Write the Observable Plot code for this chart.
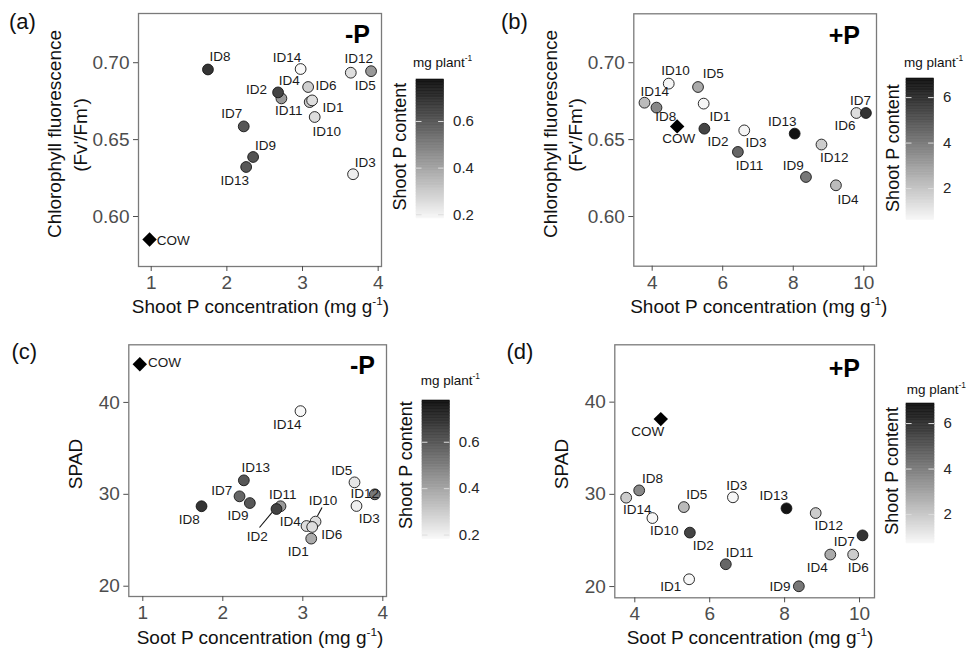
<!DOCTYPE html>
<html><head><meta charset="utf-8">
<script src="https://cdn.jsdelivr.net/npm/d3@7"></script>
<script src="https://cdn.jsdelivr.net/npm/@observablehq/plot@0.6"></script>
<style>
body{margin:0;background:#fff;}
#root{position:relative;width:970px;height:650px;overflow:hidden;font-family:"Liberation Sans",Arial,sans-serif;background:#fff;}
#root svg{position:absolute;}
</style></head><body><div id="root"></div>
<script>
// ---------- DATA ----------
// (a) -P : chlorophyll fluorescence vs shoot P concentration
const idsA = ["ID11","ID4","ID14","ID12","ID5","ID6","ID10","ID1","ID3","ID13","ID9","ID7","ID8","ID2"];
const xA   = [2.721,3.095,2.975,3.638,3.906,3.074,3.161,3.127,3.668,2.255,2.347,2.223,1.750,2.677];
const yA   = [0.6768,0.6744,0.6959,0.6935,0.6945,0.6842,0.6647,0.6755,0.6275,0.6322,0.6387,0.6586,0.6956,0.6807];
const pA   = [0.43,0.30,0.18,0.25,0.43,0.29,0.25,0.25,0.21,0.60,0.61,0.60,0.69,0.65];
// (b) +P : chlorophyll fluorescence vs shoot P concentration
const idsB = ["ID14","ID8","ID10","ID5","ID1","ID2","ID3","ID11","ID13","ID9","ID12","ID4","ID6","ID7"];
const xB   = [3.782,4.122,4.470,5.300,5.460,5.480,6.610,6.430,8.040,8.360,8.800,9.210,9.790,10.060];
const yB   = [0.6740,0.6708,0.6864,0.6842,0.6734,0.6571,0.6560,0.6420,0.6539,0.6257,0.6468,0.6203,0.6673,0.6673];
const pB   = [2.25,3.63,0.70,2.72,0.70,5.46,0.70,4.55,6.80,4.09,1.79,2.25,1.34,5.92];
// (c) -P : SPAD vs soot P concentration
const idsC = ["ID14","ID13","ID7","ID9","ID8","ID11","ID2","ID5","ID12","ID3","ID1","ID4","ID10","ID6"];
const xC   = [2.971,2.263,2.209,2.338,1.734,2.721,2.671,3.646,3.900,3.671,3.105,3.046,3.159,3.117];
const yC   = [39.05,31.52,29.78,29.05,28.70,28.70,28.40,31.30,30.00,28.73,25.18,26.55,27.03,26.45];
const pC   = [0.18,0.60,0.56,0.60,0.69,0.43,0.65,0.23,0.515,0.206,0.383,0.25,0.25,0.25];
// (d) +P : SPAD vs soot P concentration
const idsD = ["ID14","ID8","ID10","ID5","ID2","ID3","ID13","ID12","ID11","ID1","ID9","ID4","ID6","ID7"];
const xD   = [3.770,4.117,4.470,5.310,5.470,6.620,8.050,8.830,6.430,5.450,8.380,9.220,9.830,10.080];
const yD   = [29.64,30.43,27.43,28.62,25.85,29.68,28.48,27.97,22.42,20.79,20.03,23.47,23.47,25.55];
const pD   = [1.90,3.71,0.75,2.35,5.52,0.75,6.80,1.90,4.62,0.75,4.16,2.81,1.90,5.98];
// COW reference cultivar (panels a, b, c, d)
const cowX = [0.978, 4.708, 0.9625, 4.694];
const cowY = [0.585, 0.6586, 44.16, 38.16];
// tick values
const xTicksMinusP = [1,2,3,4];
const xTicksPlusP  = [4,6,8,10];
const yTicksFluor  = [0.60,0.65,0.70];
const yTicksSPAD   = [20,30,40];
const legendTicksMinusP = [0.2,0.4,0.6];
const legendTicksPlusP  = [2,4,6];

// ---------- LABEL PLACEMENT (pixel offsets, style only) ----------
const offA = {ID8:[12,-12.6],ID14:[-13.5,-11.6],ID12:[8,-14],ID5:[-5.7,14.3],ID4:[-20.5,-21.7],ID6:[18,-1],ID2:[-21.5,-3],ID11:[7.3,12.3],ID1:[20.8,7.7],ID10:[12,15],ID7:[-12,-12.7],ID9:[12.5,-11.7],ID13:[-11.5,13.3],ID3:[12.3,-11.7],COW:[23.7,1]};
const offB = {ID10:[6.7,-13.3],ID5:[15.3,-13],ID14:[10.2,-11.3],ID8:[9.2,9.4],ID1:[16.4,13.4],ID2:[13.5,13.4],ID3:[11.8,12.3],ID11:[11.5,13.3],ID13:[-12.3,-12.3],ID9:[-12.7,-11.7],ID12:[12.8,13],ID4:[12.1,14],ID6:[-11.5,12.6],ID7:[-5.4,-12.7],COW:[1.6,12.7]};
const offC = {ID14:[-13.2,13.6],ID13:[12,-12.3],ID7:[-17.8,-6],ID9:[-11.8,13],ID8:[-12.2,13],ID11:[2.3,-11.7],ID2:[-19.3,28],ID5:[-12.8,-12],ID12:[-10,-0.7],ID3:[12.8,12.6],ID10:[7.5,-21.3],ID4:[-16.3,-4],ID6:[19.5,7.6],ID1:[-12.9,13.4],COW:[24.7,-2]};
const offD = {ID8:[13.3,-12],ID14:[11,12.2],ID10:[11.8,12.8],ID5:[12.9,-12],ID2:[13.5,13],ID3:[3.9,-11.7],ID13:[-12.8,-12.7],ID12:[13,12.6],ID11:[13.7,-12],ID1:[-18.4,7.7],ID9:[-18.8,0.7],ID4:[-13,12.7],ID6:[5.1,12.7],ID7:[-18.3,6.7],COW:[-13,12.6]};

const root = document.getElementById("root");
const FONT = "'Liberation Sans', Arial, sans-serif";
const GREYS = ["#f8f8f8","#111111"];

function colorOpts(dom){ return {type:"linear", domain:dom, range:GREYS, interpolate:d3.interpolateRgb, clamp:true}; }

function panel(o){
  const rows = o.ids.map((id,i)=>({id, x:o.xs[i], y:o.ys[i], p:o.ps[i]}));
  const cow = {id:"COW", x:o.cow[0], y:o.cow[1]};
  const marks = [
    Plot.frame({stroke:"#7a7a7a", strokeWidth:1.3}),
    Plot.axisX(o.xticks, {tickSize:5, tickPadding:4, fontSize:19, color:"#4d4d4d", label:null}),
    Plot.axisY(o.yticks, {tickSize:5, tickPadding:4, fontSize:19, color:"#4d4d4d", label:null, tickFormat:o.yfmt}),
    Plot.dot(rows, {x:"x", y:"y", fill:"p", stroke:"#151515", strokeWidth:0.9, r:5.4}),
    Plot.dot([cow], {x:"x", y:"y", symbol:"diamond2", r:6.5, fill:"#000"}),
    ...rows.concat([cow]).map(d=>Plot.text([d], {x:"x", y:"y", text:"id", dx:o.off[d.id][0], dy:o.off[d.id][1], fontSize:13.5, fill:"#1a1a1a"}))
  ];
  const svg = Plot.plot({
    width:o.width, height:o.height,
    marginTop:o.mt, marginRight:o.mr, marginBottom:o.mb, marginLeft:o.ml,
    x:{domain:o.xdom}, y:{domain:o.ydom},
    color:colorOpts(o.cdom),
    style:{fontFamily:FONT, background:"transparent", overflow:"visible"},
    marks
  });
  svg.style.left = o.left+"px"; svg.style.top = o.top+"px";
  root.appendChild(svg);
  return {svg, rows, sx:svg.scale("x"), sy:svg.scale("y")};
}

function colorbar(o){
  const N = 90, d0 = o.cdom[0], d1 = o.cdom[1];
  const slices = d3.range(N).map(i=>({a:d0+(d1-d0)*i/N, b:d0+(d1-d0)*(i+1)/N}));
  const W = o.w + 45;
  const svg = Plot.plot({
    width:W, height:o.h+20, marginTop:10, marginBottom:10, marginLeft:0, marginRight:45,
    x:{domain:[0,1], axis:null}, y:{domain:o.cdom},
    color:colorOpts(o.cdom),
    style:{fontFamily:FONT, background:"transparent", overflow:"visible"},
    marks:[
      Plot.rect(slices, {x1:0, x2:1, y1:"a", y2:"b", fill:d=>(d.a+d.b)/2, stroke:d=>(d.a+d.b)/2, strokeWidth:0.6}),
      Plot.ruleY(o.ticks, {x1:0, x2:0.2, stroke:"#dcdcdc", strokeWidth:1}),
      Plot.ruleY(o.ticks, {x1:0.8, x2:1, stroke:"#dcdcdc", strokeWidth:1}),
      Plot.axisY(o.ticks, {anchor:"right", tickSize:0, tickPadding:9, fontSize:15, color:"#262626", label:null, tickFormat:o.fmt})
    ]
  });
  svg.style.left = o.left+"px"; svg.style.top = (o.top-10)+"px";
  root.appendChild(svg);
}

const f2 = d3.format(".2f"), f1 = d3.format(".1f"), f0 = d3.format("d");
const cdomMinus = [0.184, 0.78], cdomPlusB = [0.61, 6.84], cdomPlusD = [0.73, 6.88];

const pa = panel({ids:idsA, xs:xA, ys:yA, ps:pA, cow:[cowX[0],cowY[0]], left:0, top:0, width:480, height:320, mt:13, mr:99, mb:54, ml:138,
  xdom:[0.832,4.044], ydom:[0.5675,0.732], xticks:xTicksMinusP, yticks:yTicksFluor, yfmt:f2, cdom:cdomMinus, off:offA});
const pb = panel({ids:idsB, xs:xB, ys:yB, ps:pB, cow:[cowX[1],cowY[1]], left:480, top:0, width:490, height:320, mt:13.3, mr:94, mb:54.3, ml:153.3,
  xdom:[3.479,10.36], ydom:[0.5677,0.7318], xticks:xTicksPlusP, yticks:yTicksFluor, yfmt:f2, cdom:cdomPlusB, off:offB});
const pc = panel({ids:idsC, xs:xC, ys:yC, ps:pC, cow:[cowX[2],cowY[2]], left:0, top:320, width:480, height:330, mt:24.3, mr:94, mb:54, ml:128.3,
  xdom:[0.825,4.046], ydom:[18.88,46.27], xticks:xTicksMinusP, yticks:yTicksSPAD, yfmt:f0, cdom:cdomMinus, off:offC});
const pd = panel({ids:idsD, xs:xD, ys:yD, ps:pD, cow:[cowX[3],cowY[3]], left:480, top:320, width:490, height:330, mt:24.3, mr:96, mb:52.7, ml:134.3,
  xdom:[3.466,10.40], ydom:[18.78,46.22], xticks:xTicksPlusP, yticks:yTicksSPAD, yfmt:f0, cdom:cdomPlusD, off:offD});

colorbar({left:415.7, top:79, w:27.6, h:139, cdom:cdomMinus, ticks:legendTicksMinusP, fmt:f1});
colorbar({left:905.7, top:78.3, w:27.6, h:141.7, cdom:cdomPlusB, ticks:legendTicksPlusP, fmt:f0});
colorbar({left:421.7, top:400, w:27.3, h:138.3, cdom:cdomMinus, ticks:legendTicksMinusP, fmt:f1});
colorbar({left:906, top:403.3, w:28, h:140, cdom:cdomPlusD, ticks:legendTicksPlusP, fmt:f0});

// ---------- OVERLAY TEXT ----------
const ov = d3.select(root).append("svg").attr("width",970).attr("height",650)
  .style("left","0px").style("top","0px").style("font-family",FONT).style("pointer-events","none");

function txt(x,y,s,o={}){
  const e = ov.append("text").attr("x",x).attr("y",y).attr("font-size",o.size||19).attr("fill",o.fill||"#111").text(s);
  if(o.anchor) e.attr("text-anchor",o.anchor);
  if(o.weight) e.attr("font-weight",o.weight);
  return e;
}
function vtxt(cx,cy,s,size,fill){
  ov.append("text").attr("transform",`translate(${cx},${cy}) rotate(-90)`).attr("text-anchor","middle")
    .attr("dominant-baseline","central").attr("font-size",size).attr("fill",fill||"#111").text(s);
}
function supTxt(x,y,base,sup,tail,size,anchor){
  const e = ov.append("text").attr("x",x).attr("y",y).attr("font-size",size).attr("fill","#111");
  if(anchor) e.attr("text-anchor",anchor);
  e.append("tspan").text(base);
  e.append("tspan").attr("font-size",size*0.62).attr("dy",-size*0.42).text(sup);
  if(tail) e.append("tspan").attr("dy",size*0.42).text(tail);
  return e;
}

// panel tags
txt(9,28.5,"(a)",{size:22}); txt(501,28.5,"(b)",{size:22});
txt(11.5,359,"(c)",{size:22}); txt(506.5,359,"(d)",{size:22});
// treatment tags
txt(370,43,"-P",{size:25,weight:"bold",anchor:"end",fill:"#000"});
txt(860,44,"+P",{size:25,weight:"bold",anchor:"end",fill:"#000"});
txt(375,374,"-P",{size:25,weight:"bold",anchor:"end",fill:"#000"});
txt(860,377,"+P",{size:25,weight:"bold",anchor:"end",fill:"#000"});
// x titles
supTxt(260.5,313,"Shoot P concentration (mg g","-1",")",19,"middle");
supTxt(758.8,313,"Shoot P concentration (mg g","-1",")",19,"middle");
supTxt(260,644,"Soot P concentration (mg g","-1",")",19,"middle");
supTxt(750,644,"Soot P concentration (mg g","-1",")",19,"middle");
// y titles
vtxt(54,134,"Chlorophyll fluorescence",19); vtxt(80,135,"(Fv'/Fm')",19);
vtxt(550,134,"Chlorophyll fluorescence",19); vtxt(575.7,135,"(Fv'/Fm')",19);
vtxt(75,464,"SPAD",19); vtxt(561,464,"SPAD",19);
// legend titles
vtxt(400,146.7,"Shoot P content",18); vtxt(892.5,148,"Shoot P content",18);
vtxt(405.5,465,"Shoot P content",18); vtxt(891.7,470.8,"Shoot P content",18);
supTxt(413,67,"mg plant","-1",null,13.5);
supTxt(904,67,"mg plant","-1",null,13.5);
supTxt(420.7,385,"mg plant","-1",null,13.5);
supTxt(906.7,394,"mg plant","-1",null,13.5);

// leader segments in panel (c)
function leader(p, id, a, b){
  const d = p.rows.find(r=>r.id===id);
  const px = p.sx.apply(d.x), py = p.sy.apply(d.y);
  ov.append("line").attr("x1",px+a[0]).attr("y1",320+py+a[1]).attr("x2",px+b[0]).attr("y2",320+py+b[1])
    .attr("stroke","#111").attr("stroke-width",1.1);
}
leader(pc,"ID2",[-3.9,3.9],[-16.5,19]);
leader(pc,"ID10",[2.4,-5.2],[7,-13.6]);
</script></body></html>
